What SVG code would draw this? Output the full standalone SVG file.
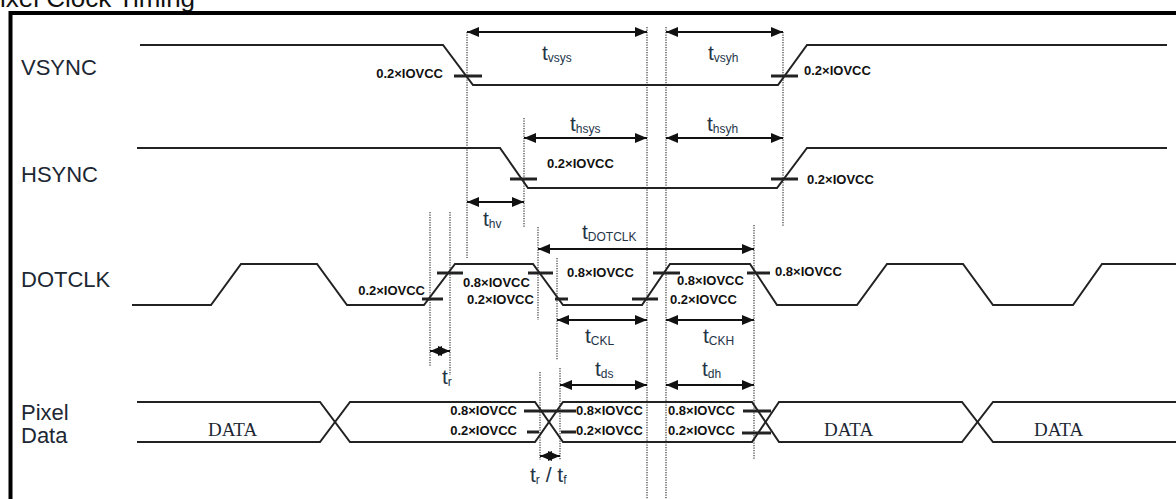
<svg xmlns="http://www.w3.org/2000/svg" width="1176" height="499" viewBox="0 0 1176 499">
<defs>
<style>
.wave{fill:none;stroke:#222;stroke-width:2;stroke-linejoin:miter}
.tick{stroke:#222;stroke-width:3}
.lvl{font-family:"Liberation Sans",Arial,sans-serif;font-size:13px;font-weight:bold;fill:#111}
.sig{font-family:"Liberation Sans",Arial,sans-serif;font-size:22px;fill:#1c2733}
.tl{font-family:"Liberation Sans",Arial,sans-serif;font-size:21px;fill:#243447}
.sub{font-size:12px}
.data{font-family:"Liberation Serif","Times New Roman",serif;font-size:19px;fill:#1c2733}
.dot{stroke:#555;stroke-width:1.4;stroke-dasharray:1.2 1.3;fill:none}
.arr{stroke:#111;stroke-width:2;fill:none;marker-start:url(#ah);marker-end:url(#ah)}
</style>
<marker id="ah" markerUnits="userSpaceOnUse" markerWidth="12" markerHeight="10" refX="12" refY="5" orient="auto-start-reverse">
<path d="M0,0 L12,5 L0,10 z" fill="#111"/>
</marker>
</defs>
<rect width="1176" height="499" fill="#fff"/>
<text x="0" y="7" font-family="Liberation Sans,Arial,sans-serif" font-size="26" fill="#111">ixel Clock Timing</text>
<path d="M10.5,499 V13 H1176" fill="none" stroke="#000" stroke-width="4"/>

<g id="connectors">
<line class="dot" x1="467" y1="32" x2="467" y2="258"/>
<line class="dot" x1="647" y1="27" x2="647" y2="499"/>
<line class="dot" x1="666" y1="27" x2="666" y2="499"/>
<line class="dot" x1="783" y1="32" x2="783" y2="227"/>
<line class="dot" x1="524" y1="118" x2="524" y2="227"/>
<line class="dot" x1="430" y1="212" x2="430" y2="367"/>
<line class="dot" x1="450" y1="212" x2="450" y2="375"/>
<line class="dot" x1="538" y1="227" x2="538" y2="320"/>
<line class="dot" x1="557" y1="258" x2="557" y2="360"/>
<line class="dot" x1="754" y1="225" x2="754" y2="460"/>
<line class="dot" x1="540" y1="372" x2="540" y2="460"/>
<line class="dot" x1="560" y1="368" x2="560" y2="460"/>

<line class="arr" x1="467" y1="32" x2="647" y2="32"/>
<line class="arr" x1="666" y1="32" x2="783" y2="32"/>
<line class="arr" x1="524" y1="138" x2="647" y2="138"/>
<line class="arr" x1="666" y1="138" x2="783" y2="138"/>
<line class="arr" x1="467" y1="202" x2="524" y2="202"/>
<line class="arr" x1="538" y1="249" x2="754" y2="249"/>
<line class="arr" x1="557" y1="320" x2="647" y2="320"/>
<line class="arr" x1="666" y1="320" x2="754" y2="320"/>
<line class="arr" x1="430" y1="351" x2="450" y2="351"/>
<line class="arr" x1="560" y1="385" x2="647" y2="385"/>
<line class="arr" x1="666" y1="385" x2="754" y2="385"/>
<line class="arr" x1="540" y1="456" x2="560" y2="456"/>

<text class="tl" x="542" y="60">t<tspan class="sub" dy="2">vsys</tspan></text>
<text class="tl" x="708" y="60">t<tspan class="sub" dy="2">vsyh</tspan></text>
<text class="tl" x="570" y="131">t<tspan class="sub" dy="2">hsys</tspan></text>
<text class="tl" x="707" y="131">t<tspan class="sub" dy="2">hsyh</tspan></text>
<text class="tl" x="483" y="226">t<tspan class="sub" dy="2">hv</tspan></text>
<text class="tl" x="582" y="239">t<tspan class="sub" dy="2">DOTCLK</tspan></text>
<text class="tl" x="585" y="343">t<tspan class="sub" dy="2">CKL</tspan></text>
<text class="tl" x="703" y="343">t<tspan class="sub" dy="2">CKH</tspan></text>
<text class="tl" x="442" y="384">t<tspan class="sub" dy="2">r</tspan></text>
<text class="tl" x="595" y="376">t<tspan class="sub" dy="2">ds</tspan></text>
<text class="tl" x="702" y="376">t<tspan class="sub" dy="2">dh</tspan></text>
<text class="tl" x="530" y="482">t<tspan class="sub" dy="2">r</tspan><tspan dy="-2"> / t</tspan><tspan class="sub" dy="2">f</tspan></text>
</g>

<g id="vsync">
<text class="sig" x="21" y="75">VSYNC</text>
<path class="wave" d="M140,45 H443 L473,85 H778 L807,45 H1167"/>
<line class="tick" x1="454" y1="76" x2="482" y2="76"/>
<line class="tick" x1="771" y1="76" x2="798" y2="76"/>
<text class="lvl" x="443" y="78" text-anchor="end">0.2×IOVCC</text>
<text class="lvl" x="804" y="75">0.2×IOVCC</text>
</g>

<g id="hsync">
<text class="sig" x="21" y="182">HSYNC</text>
<path class="wave" d="M137,148 H500 L528,188 H777 L807,148 H1167"/>
<line class="tick" x1="510" y1="179" x2="537" y2="179"/>
<line class="tick" x1="771" y1="179" x2="798" y2="179"/>
<text class="lvl" x="547" y="168">0.2×IOVCC</text>
<text class="lvl" x="807" y="184">0.2×IOVCC</text>
</g>

<g id="dotclk">
<text class="sig" x="21" y="287">DOTCLK</text>
<path class="wave" d="M132,305 H211 L241,264 H317 L347,305 H424 L455,264 H533 L563,305 H642 L670,264 H750 L777,305 H857 L887,264 H963 L993,305 H1073 L1102,264 H1176"/>
<line class="tick" x1="422" y1="299" x2="443" y2="299"/>
<line class="tick" x1="437" y1="273" x2="463" y2="273"/>
<line class="tick" x1="528" y1="273" x2="553" y2="273"/>
<line class="tick" x1="555" y1="299" x2="568" y2="299"/>
<line class="tick" x1="632" y1="299" x2="658" y2="299"/>
<line class="tick" x1="653" y1="273" x2="680" y2="273"/>
<line class="tick" x1="747" y1="273" x2="770" y2="273"/>
<text class="lvl" x="425" y="295" text-anchor="end">0.2×IOVCC</text>
<text class="lvl" x="463" y="287">0.8×IOVCC</text>
<text class="lvl" x="467" y="304">0.2×IOVCC</text>
<text class="lvl" x="567" y="277">0.8×IOVCC</text>
<text class="lvl" x="677" y="285">0.8×IOVCC</text>
<text class="lvl" x="670" y="304">0.2×IOVCC</text>
<text class="lvl" x="775" y="276">0.8×IOVCC</text>
</g>

<g id="pixeldata">
<text class="sig" x="21" y="420">Pixel</text>
<text class="sig" x="21" y="443">Data</text>
<path class="wave" d="M137,402 H320 L350,442 H535 L563,402 H752 L779,442 H962 L993,402 H1176"/>
<path class="wave" d="M137,442 H320 L350,402 H535 L563,442 H752 L779,402 H962 L993,442 H1176"/>
<line class="tick" x1="524" y1="411" x2="576" y2="411"/>
<line class="tick" x1="527" y1="432" x2="539" y2="432"/>
<line class="tick" x1="561" y1="432" x2="576" y2="432"/>
<line class="tick" x1="743" y1="411" x2="771" y2="411"/>
<line class="tick" x1="742" y1="433" x2="771" y2="433"/>
<text class="lvl" x="517" y="415" text-anchor="end">0.8×IOVCC</text>
<text class="lvl" x="517" y="435" text-anchor="end">0.2×IOVCC</text>
<text class="lvl" x="576" y="415">0.8×IOVCC</text>
<text class="lvl" x="576" y="435">0.2×IOVCC</text>
<text class="lvl" x="668" y="415">0.8×IOVCC</text>
<text class="lvl" x="668" y="435">0.2×IOVCC</text>
<text class="data" x="208" y="436">DATA</text>
<text class="data" x="824" y="436">DATA</text>
<text class="data" x="1034" y="436">DATA</text>
</g>
</svg>
